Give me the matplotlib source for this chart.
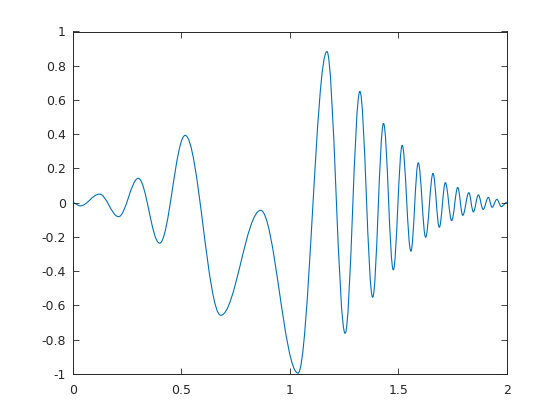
import matplotlib
matplotlib.use("Agg")
import matplotlib.pyplot as plt
from matplotlib.path import Path
from matplotlib.patches import PathPatch

# Turning points of the curve (start, extrema, end)
x_pts = [0.0, 0.034, 0.123, 0.211, 0.302, 0.400, 0.518, 0.682, 0.866,
         1.038, 1.171, 1.255, 1.323, 1.382, 1.432, 1.477, 1.518, 1.558,
         1.592, 1.626, 1.660, 1.689, 1.717, 1.746, 1.774, 1.797, 1.825,
         1.846, 1.869, 1.891, 1.915, 1.932, 1.954, 1.975, 2.0]
y_pts = [0.0, -0.019, 0.050, -0.082, 0.142, -0.237, 0.393, -0.658, -0.045,
         -0.996, 0.883, -0.763, 0.650, -0.553, 0.463, -0.393, 0.335, -0.284,
         0.233, -0.202, 0.171, -0.144, 0.117, -0.105, 0.089, -0.074, 0.058,
         -0.054, 0.045, -0.039, 0.031, -0.027, 0.019, -0.023, 0.002]

x_ticks = [0, 0.5, 1, 1.5, 2]
x_labels = ["0", "0.5", "1", "1.5", "2"]
y_ticks = [-1, -0.8, -0.6, -0.4, -0.2, 0, 0.2, 0.4, 0.6, 0.8, 1]
y_labels = ["-1", "-0.8", "-0.6", "-0.4", "-0.2", "0", "0.2", "0.4", "0.6", "0.8", "1"]

plt.rcParams['font.family'] = ['DejaVu Sans']

fig = plt.figure(figsize=(5.6, 4.2), dpi=100)
ax = fig.add_axes([0.13, 0.11, 0.775, 0.815])

# Smooth curve through turning points: cubic Bezier segments with flat
# tangents at each turning point (handle 0.364 ~ a half-cosine shape)
k = 0.364
verts = [(x_pts[0], y_pts[0])]
codes = [Path.MOVETO]
for i in range(len(x_pts) - 1):
    x0, y0 = x_pts[i], y_pts[i]
    x1, y1 = x_pts[i + 1], y_pts[i + 1]
    dx = x1 - x0
    verts += [(x0 + k * dx, y0), (x1 - k * dx, y1), (x1, y1)]
    codes += [Path.CURVE4] * 3
curve = PathPatch(Path(verts, codes), facecolor='none', edgecolor='#0072BD', lw=0.8)
ax.add_patch(curve)

ax.set_xlim(0, 2)
ax.set_ylim(-1, 1)
ax.set_xticks(x_ticks)
ax.set_xticklabels(x_labels)
ax.set_yticks(y_ticks)
ax.set_yticklabels(y_labels)
ax.tick_params(direction='in', length=4, width=0.6, top=True, right=True,
               labelsize=9, colors='#262626', pad=5)
ax.tick_params(axis='x', pad=7)
for s in ax.spines.values():
    s.set_linewidth(0.7)
    s.set_color('#262626')

fig.savefig("out.png", dpi=100)
